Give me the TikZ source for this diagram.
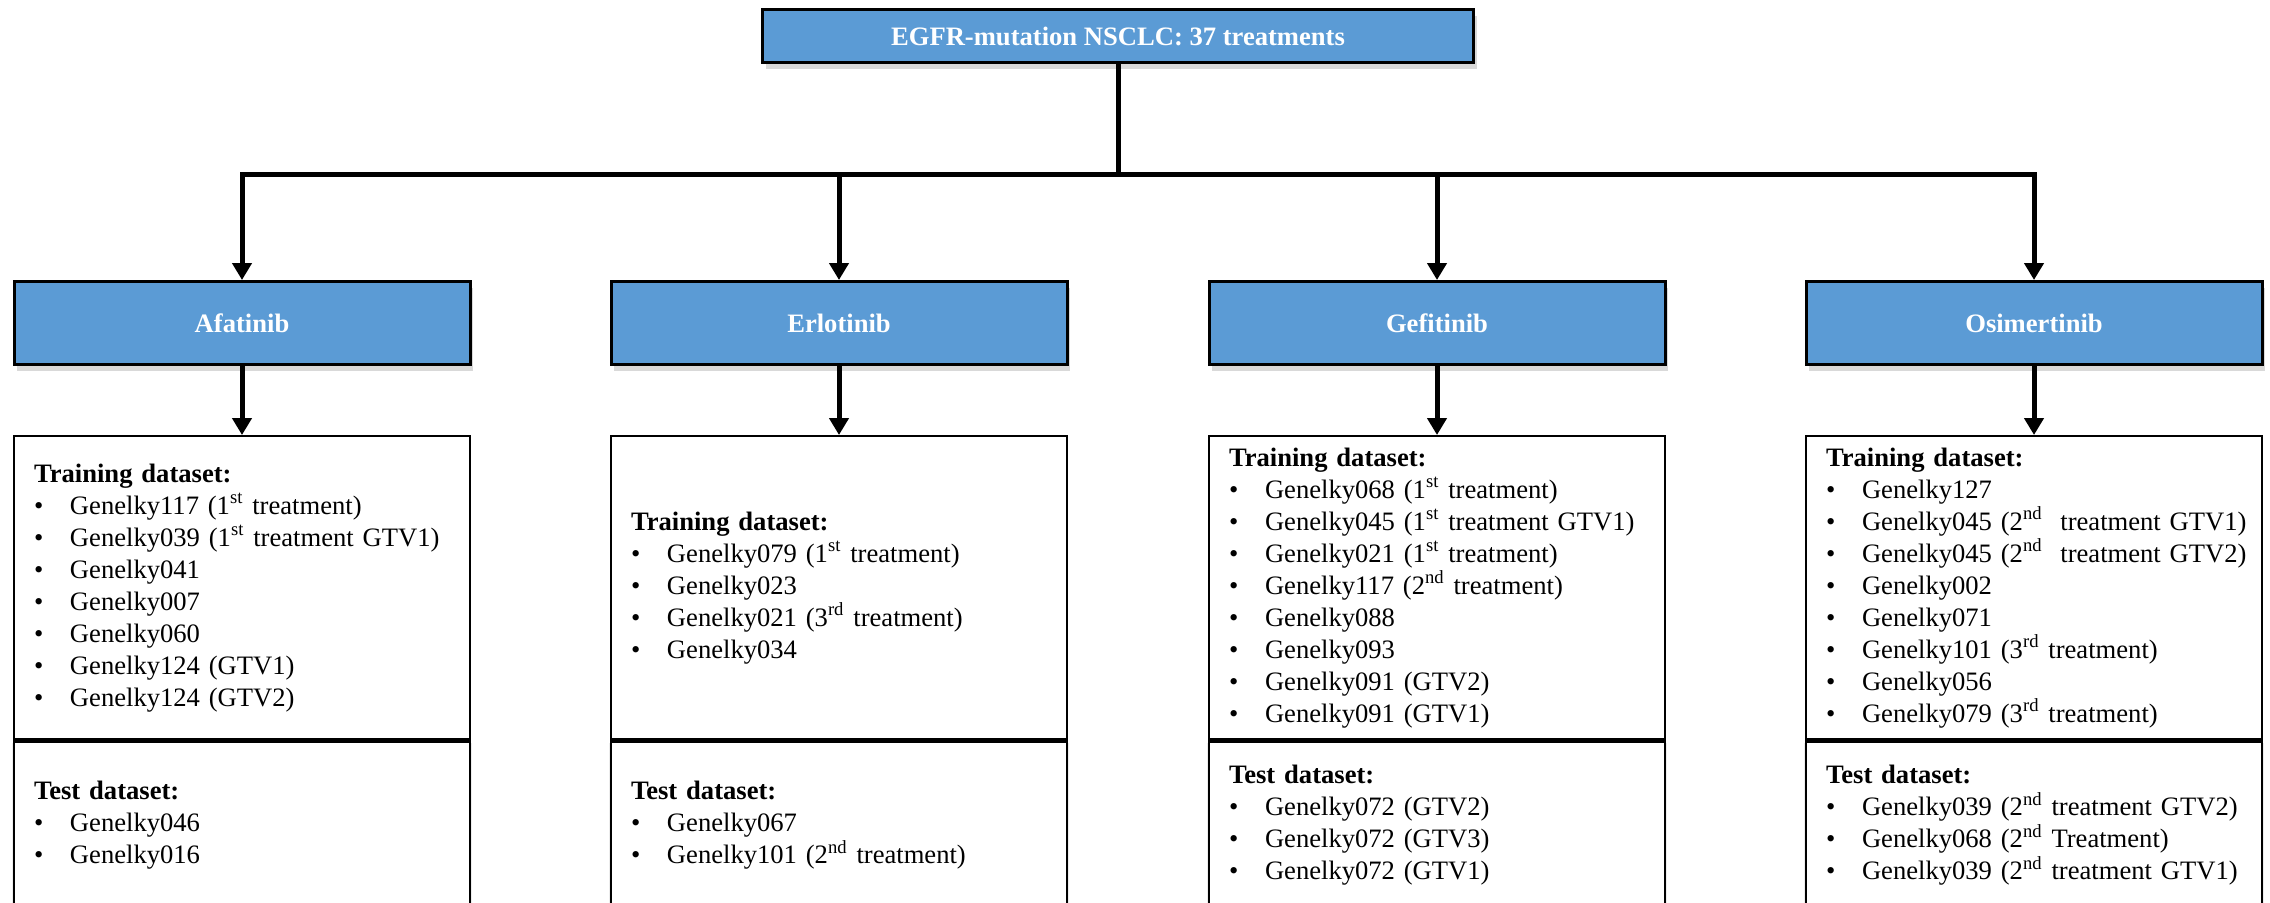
\documentclass[tikz,border=0pt]{standalone}
\usepackage{fontspec}
\setmainfont{Liberation Serif}
\usetikzlibrary{arrows.meta,positioning,shadows}
\definecolor{drugblue}{RGB}{91,155,213}
\newcommand{\itm}[1]{\mbox{\makebox[18pt][l]{\textbullet}#1}}
\newcommand{\nth}[1]{\textsuperscript{#1}}
\newcommand{\boxfont}{\fontsize{13.3}{16}\selectfont}
\tikzset{
  header/.style={
    draw,
    line width=1.5pt,
    fill=drugblue,
    text=white,
    font=\boxfont\bfseries,
    minimum width=355.5pt,
    minimum height=26.5pt,
    drop shadow={shadow xshift=1.5pt, shadow yshift=-3pt, opacity=0.3}
  },
  drug/.style={
    header,
    minimum width=228pt,
    minimum height=41.5pt
  },
  train/.style={
    draw,
    line width=1.2pt,
    fill=white,
    align=left,
    text width=208pt,
    inner xsep=10pt,
    minimum height=151.5pt
  },
  test/.style={
    train,
    minimum height=84pt,
    drop shadow={shadow xshift=0pt, shadow yshift=-1pt, shadow scale=1.01, opacity=0.15}
  },
  line/.style={
    -{Triangle[length=8.5pt,width=9.5pt]},
    line width=2.5pt
  }
}

\begin{document}
\begin{tikzpicture}[x=0.5pt, y=-0.5pt, font=\boxfont, node distance=34.5pt]
  \clip (0,0) rectangle (2270,902);
  \node[header] (root) at (1118,36) {EGFR-mutation NSCLC: 37 treatments};

  \node[drug] (afa) at (242,323) {Afatinib};
  \node[drug] (erl) at (839,323) {Erlotinib};
  \node[drug] (gef) at (1437,323) {Gefitinib};
  \node[drug] (osi) at (2034,323) {Osimertinib};

  \node[train, below=of afa] (afa-train) {\textbf{Training dataset:}\\
    \itm{Genelky117 (1\nth{st} treatment)}\\
    \itm{Genelky039 (1\nth{st} treatment GTV1)}\\
    \itm{Genelky041}\\
    \itm{Genelky007}\\
    \itm{Genelky060}\\
    \itm{Genelky124 (GTV1)}\\
    \itm{Genelky124 (GTV2)}};
  \node[test, below=0pt of afa-train] (afa-test) {\textbf{Test dataset:}\\
    \itm{Genelky046}\\
    \itm{Genelky016}};

  \node[train, below=of erl] (erl-train) {\textbf{Training dataset:}\\
    \itm{Genelky079 (1\nth{st} treatment)}\\
    \itm{Genelky023}\\
    \itm{Genelky021 (3\nth{rd} treatment)}\\
    \itm{Genelky034}};
  \node[test, below=0pt of erl-train] (erl-test) {\textbf{Test dataset:}\\
    \itm{Genelky067}\\
    \itm{Genelky101 (2\nth{nd} treatment)}};

  \node[train, below=of gef] (gef-train) {\textbf{Training dataset:}\\
    \itm{Genelky068 (1\nth{st} treatment)}\\
    \itm{Genelky045 (1\nth{st} treatment GTV1)}\\
    \itm{Genelky021 (1\nth{st} treatment)}\\
    \itm{Genelky117 (2\nth{nd} treatment)}\\
    \itm{Genelky088}\\
    \itm{Genelky093}\\
    \itm{Genelky091 (GTV2)}\\
    \itm{Genelky091 (GTV1)}};
  \node[test, below=0pt of gef-train] (gef-test) {\textbf{Test dataset:}\\
    \itm{Genelky072 (GTV2)}\\
    \itm{Genelky072 (GTV3)}\\
    \itm{Genelky072 (GTV1)}};

  \node[train, below=of osi] (osi-train) {\textbf{Training dataset:}\\
    \itm{Genelky127}\\
    \itm{Genelky045 (2\nth{nd}~ treatment GTV1)}\\
    \itm{Genelky045 (2\nth{nd}~ treatment GTV2)}\\
    \itm{Genelky002}\\
    \itm{Genelky071}\\
    \itm{Genelky101 (3\nth{rd} treatment)}\\
    \itm{Genelky056}\\
    \itm{Genelky079 (3\nth{rd} treatment)}};
  \node[test, below=0pt of osi-train] (osi-test) {\textbf{Test dataset:}\\
    \itm{Genelky039 (2\nth{nd} treatment GTV2)}\\
    \itm{Genelky068 (2\nth{nd} Treatment)}\\
    \itm{Genelky039 (2\nth{nd} treatment GTV1)}};

  \coordinate (split) at (1118,174);
  \foreach \d in {afa,erl,gef,osi} {
    \draw[line] (root.south) -- (split) -| (\d.north);
    \draw[line] (\d.south) -- (\d-train.north);
  }
\end{tikzpicture}
\end{document}
